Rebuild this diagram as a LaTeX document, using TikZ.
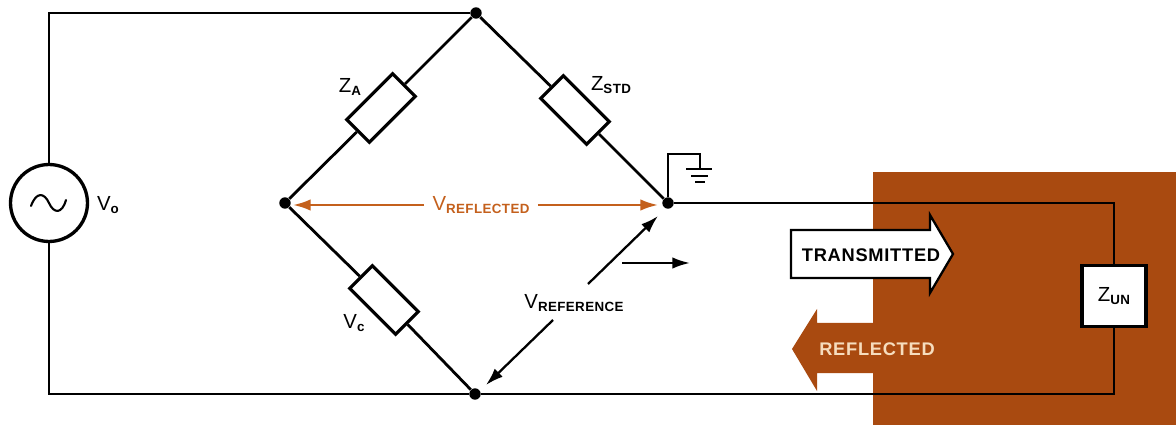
\documentclass[tikz,border=0pt]{standalone}
\usepackage{fontspec}
\setmainfont{Liberation Sans}
\definecolor{rust}{HTML}{A94A10}
\definecolor{arrowrust}{HTML}{C4601C}
\definecolor{peach}{HTML}{F6DDBE}
\newcommand{\biglabel}[2]{{\fontsize{11.6}{14}\selectfont #1}\raisebox{-1.8pt}{\fontsize{7.6}{9}\bfseries\addfontfeature{LetterSpace=3} #2}}
\newcommand{\wavetext}[1]{\fontsize{10.4}{12}\selectfont\bfseries\addfontfeature{LetterSpace=4}#1}
\tikzset{
  wire/.style={line width=1.6pt},
  junction/.style={circle,fill=black,inner sep=0pt,minimum size=6.5pt},
  impedance/.style={draw,line width=1.8pt,fill=white,minimum width=1.3cm,minimum height=.64cm,inner sep=0pt},
  label/.style={inner sep=0pt},
  pointer/.style={line width=1.3pt,-{Latex[length=10pt,width=6.5pt]}},
  pointerrust/.style={line width=1.3pt,arrowrust,-{Latex[length=10pt,width=6.5pt]}},
}
\usetikzlibrary{arrows.meta}
\begin{document}
\begin{tikzpicture}[x=.02cm,y=-.02cm]
        \useasboundingbox (0,0) rectangle (1176,425);
        \fill[rust] (873,172) rectangle (1176,425);
        % bridge corners
        \node[junction] (top) at (476,13) {};
        \node[junction] (left) at (285,203) {};
        \node[junction] (right) at (668,203) {};
        \node[junction] (bottom) at (475,394) {};
        % source
        \node[circle,draw,line width=1.9pt,fill=white,minimum size=1.54cm,inner sep=0pt] (source) at (49,203) {};
        \draw[line width=1.2pt,line cap=round] (31,206) .. controls (36,192) and (44,192) .. (49,203) .. controls (54,214) and (62,214) .. (66,200);
        \draw[wire] (source) |- (top);
        \draw[wire] (source) |- (bottom);
        % arms
        \node[impedance,rotate=45] (za) at (381,108) {};
        \node[impedance,rotate=-45] (zstd) at (575,110) {};
        \node[impedance,rotate=-45] (vc) at (384,300) {};
        \draw[wire] (top) -- (za);
        \draw[wire] (za) -- (left);
        \draw[wire] (top) -- (zstd);
        \draw[wire] (zstd) -- (right);
        \draw[wire] (left) -- (vc);
        \draw[wire] (vc) -- (bottom);
        % load
        \node[draw,line width=2.2pt,fill=white,minimum width=1.28cm,minimum height=1.22cm,inner sep=0pt] (zun) at (1114,296) {\biglabel{Z}{UN}};
        \draw[wire] (right) -| (zun);
        \draw[wire] (bottom) -| (zun);
        % ground
        \coordinate (gndtop) at (700,154);
        \coordinate (gnd) at (700,169);
        \draw[wire] (right) |- (gndtop) -- (gnd);
        \draw[wire] (686,169) -- (712,169);
        \draw[wire] (691,176) -- (708,176);
        \draw[wire] (695,182) -- (705,182);
        % wave arrows
        \draw[line width=1.3pt,fill=white] (791,230) -- (930,230) -- (930,215) -- (953,254) -- (930,293) -- (930,278) -- (791,278) -- cycle;
        \node[label] (transmitted) at (871,255) {\wavetext{TRANSMITTED}};
        \fill[rust] (792,349) -- (817,309) -- (817,323) -- (880,323) -- (880,373) -- (817,373) -- (817,391) -- cycle;
        \node[label,text=peach] (reflected) at (877,349) {\wavetext{REFLECTED}};
        % voltages
        \node[label,text=arrowrust] (vrefl) at (481,205) {\biglabel{V}{REFLECTED}};
        \draw[pointerrust] (vrefl.west)+(-8,0) coordinate (vreflw) -- (293,205);
        \draw[pointerrust] (vrefl.east)+(8,0) coordinate (vrefle) -- (658,205);
        \node[label] (vrefer) at (574,303) {\biglabel{V}{REFERENCE}};
        \coordinate (vrefertop) at (588,284);
        \coordinate (vreferbot) at (553,320);
        \draw[pointer] (vrefertop) -- (658,216);
        \draw[pointer] (vreferbot) -- (486,385);
        \coordinate (flowstart) at (622,263);
        \draw[pointer] (flowstart) -- (690,263);
        % names
        \node[label] (vo) at (108,205) {\biglabel{V}{o}};
        \node[label] (zalabel) at (350,87) {\biglabel{Z}{A}};
        \node[label] (zstdlabel) at (611,85) {\biglabel{Z}{STD}};
        \node[label] (vclabel) at (354,323) {\biglabel{V}{c}};
\end{tikzpicture}
\end{document}
